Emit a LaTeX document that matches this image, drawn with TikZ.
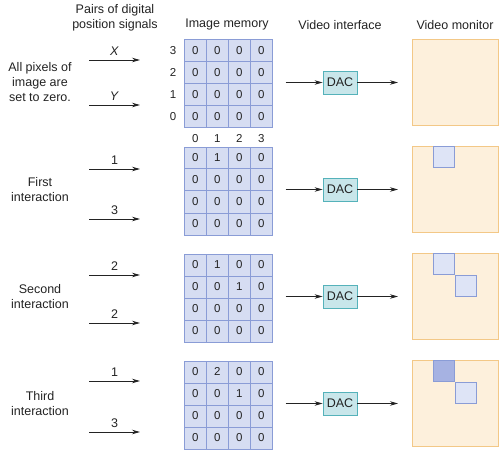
\documentclass[tikz,border=0pt]{standalone}
\usepackage{fontspec}
\setmainfont{Liberation Sans}
\usetikzlibrary{arrows.meta,positioning,matrix}

\definecolor{ink}{RGB}{35,35,35}
\definecolor{cellfill}{RGB}{214,221,242}
\definecolor{cellline}{RGB}{138,156,214}
\definecolor{monfill}{RGB}{253,240,220}
\definecolor{monline}{RGB}{243,200,135}
\definecolor{pixlight}{RGB}{222,228,246}
\definecolor{pixdark}{RGB}{166,178,226}
\definecolor{dacfill}{RGB}{200,230,234}
\definecolor{dacline}{RGB}{85,178,186}

\tikzset{
  txt/.style={font=\fontsize{12.5}{15}\selectfont, text=ink, align=center},
  digit/.style={font=\fontsize{11.5}{11.5}\selectfont, text=ink, inner sep=1pt, text height=8.3pt, text depth=0pt},
  cell/.style={draw=cellline, fill=cellfill, line width=0.7pt, minimum width=22pt, minimum height=22pt, inner sep=0pt, anchor=center, font=\fontsize{11.5}{11.5}\selectfont, text=ink},
  memgrid/.style={matrix of nodes, nodes={cell}, column sep=-0.7pt, row sep=-0.7pt, inner sep=0pt, outer sep=0pt, anchor=north west},
  dacbox/.style={draw=dacline, fill=dacfill, line width=0.8pt, minimum width=34pt, minimum height=23pt, inner sep=0pt, font=\fontsize{12.5}{12.5}\selectfont, text=ink},
  monitor/.style={draw=monline, fill=monfill, line width=0.9pt, minimum width=86pt, minimum height=86pt, inner sep=0pt, outer sep=0pt},
  pixel/.style={draw=cellline, fill=pixlight, line width=0.7pt, minimum width=21pt, minimum height=21pt, inner sep=0pt, outer sep=0pt, anchor=north west},
  sig/.style={-{Stealth[length=8pt,width=4.5pt]}, draw=ink, line width=0.8pt}
}

\begin{document}
\begin{tikzpicture}[x=1pt, y=-1pt]
  \useasboundingbox (0,0) rectangle (500,454);

  % column headings
  \node[txt] (hdrSig) at (115,18) {Pairs of digital\\position signals};
  \node[txt] (hdrMem) at (227,25) {Image memory};
  \node[txt] (hdrVid) at (340,25) {Video interface};
  \node[txt] (hdrMon) at (455,25) {Video monitor};

  % image memory, one grid per stage
  \matrix[memgrid] (M1) at (184,39.5) {0 & 0 & 0 & 0\\ 0 & 0 & 0 & 0\\ 0 & 0 & 0 & 0\\ 0 & 0 & 0 & 0\\};
  \matrix[memgrid] (M2) at (184,146.5) {0 & 1 & 0 & 0\\ 0 & 0 & 0 & 0\\ 0 & 0 & 0 & 0\\ 0 & 0 & 0 & 0\\};
  \matrix[memgrid] (M3) at (184,253.5) {0 & 1 & 0 & 0\\ 0 & 0 & 1 & 0\\ 0 & 0 & 0 & 0\\ 0 & 0 & 0 & 0\\};
  \matrix[memgrid] (M4) at (184,360.5) {0 & 2 & 0 & 0\\ 0 & 0 & 1 & 0\\ 0 & 0 & 0 & 0\\ 0 & 0 & 0 & 0\\};

  % axis numbers of the first grid
  \foreach \i/\v in {1/3,2/2,3/1,4/0}
    \node[digit, left=7pt of M1-\i-1] (row\v) {\v};
  \foreach \j/\v in {1/0,2/1,3/2,4/3}
    \node[digit, below=5.5pt of M1-4-\j] (col\v) {\v};

  % stage text, signals, DAC and monitor
  \foreach \r/\t/\ya/\yb/\la/\lb/\stage in {%
      1/39.5/60/105/\textit{X}/\textit{Y}/{All pixels of\\image are\\set to zero.},
      2/146.5/169/219/1/3/{First\\interaction},
      3/253.5/275/323/2/2/{Second\\interaction},
      4/360.5/381/432/1/3/{Third\\interaction}} {
    \node[txt] (stage\r) at (40,\t+43) {\stage};
    \coordinate (xa\r) at (89,\ya);
    \coordinate (xb\r) at (140,\ya);
    \coordinate (ya\r) at (89,\yb);
    \coordinate (yb\r) at (140,\yb);
    \draw[sig] (xa\r) -- node[txt, above=0.5pt] (lx\r) {\la} (xb\r);
    \draw[sig] (ya\r) -- node[txt, above=0.5pt] (ly\r) {\lb} (yb\r);
    \node[dacbox] (D\r) at (340,\t+43) {DAC};
    \node[monitor] (Mon\r) at (455,\t+43) {};
    \draw[sig] ([xshift=13pt]D\r.west -| M\r.east) -- (D\r.west);
    \draw[sig] (D\r.east) -- ([xshift=-14pt]D\r.east -| Mon\r.west);
  }

  % lit pixels on the monitor
  \node[pixel] (P2a) at ([xshift=21pt]Mon2.north west) {};
  \node[pixel] (P3a) at ([xshift=21pt]Mon3.north west) {};
  \node[pixel] (P3b) at ([xshift=43pt,yshift=-22pt]Mon3.north west) {};
  \node[pixel, fill=pixdark] (P4a) at ([xshift=21pt]Mon4.north west) {};
  \node[pixel] (P4b) at ([xshift=43pt,yshift=-22pt]Mon4.north west) {};
\end{tikzpicture}
\end{document}
